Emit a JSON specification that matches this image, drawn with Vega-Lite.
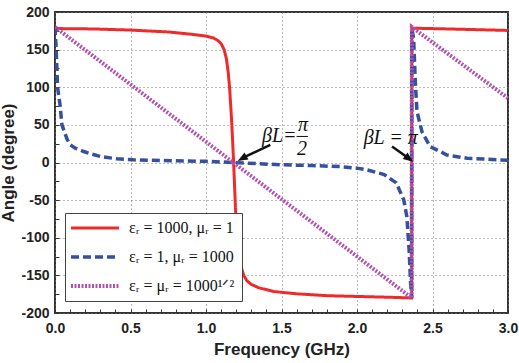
{
  "$schema": "https://vega.github.io/schema/vega-lite/v6.json",
  "autosize": "none",
  "width": 453,
  "height": 301,
  "padding": {"left": 55, "top": 12, "right": 11, "bottom": 50},
  "background": "white",
  "config": {
    "font": "Liberation Sans",
    "view": {"stroke": "#333", "strokeWidth": 2},
    "axis": {
      "domain": false,
      "labelFont": "Liberation Sans",
      "labelFontWeight": "bold",
      "labelFontSize": 14,
      "labelColor": "#222",
      "titleFont": "Liberation Sans",
      "titleFontWeight": "bold",
      "titleFontSize": 17,
      "titleColor": "#222",
      "tickColor": "#333",
      "tickWidth": 1,
      "tickSize": -4,
      "gridColor": "#777",
      "gridDash": [1, 3],
      "gridWidth": 1
    }
  },
  "datasets": {
    "lines": [
      {"series": "εᵣ = 1000, μᵣ = 1", "f": 0, "a": 178},
      {"series": "εᵣ = 1000, μᵣ = 1", "f": 0.25, "a": 177.5},
      {"series": "εᵣ = 1000, μᵣ = 1", "f": 0.5, "a": 176},
      {"series": "εᵣ = 1000, μᵣ = 1", "f": 0.75, "a": 173.5},
      {"series": "εᵣ = 1000, μᵣ = 1", "f": 0.9, "a": 170.5},
      {"series": "εᵣ = 1000, μᵣ = 1", "f": 1.0, "a": 168},
      {"series": "εᵣ = 1000, μᵣ = 1", "f": 1.05, "a": 165.5},
      {"series": "εᵣ = 1000, μᵣ = 1", "f": 1.08, "a": 162},
      {"series": "εᵣ = 1000, μᵣ = 1", "f": 1.1, "a": 158},
      {"series": "εᵣ = 1000, μᵣ = 1", "f": 1.12, "a": 150},
      {"series": "εᵣ = 1000, μᵣ = 1", "f": 1.135, "a": 138},
      {"series": "εᵣ = 1000, μᵣ = 1", "f": 1.147, "a": 120},
      {"series": "εᵣ = 1000, μᵣ = 1", "f": 1.156, "a": 100},
      {"series": "εᵣ = 1000, μᵣ = 1", "f": 1.17, "a": 55},
      {"series": "εᵣ = 1000, μᵣ = 1", "f": 1.183, "a": 0},
      {"series": "εᵣ = 1000, μᵣ = 1", "f": 1.195, "a": -60},
      {"series": "εᵣ = 1000, μᵣ = 1", "f": 1.205, "a": -100},
      {"series": "εᵣ = 1000, μᵣ = 1", "f": 1.217, "a": -122},
      {"series": "εᵣ = 1000, μᵣ = 1", "f": 1.23, "a": -137},
      {"series": "εᵣ = 1000, μᵣ = 1", "f": 1.25, "a": -150},
      {"series": "εᵣ = 1000, μᵣ = 1", "f": 1.27, "a": -157},
      {"series": "εᵣ = 1000, μᵣ = 1", "f": 1.3, "a": -162},
      {"series": "εᵣ = 1000, μᵣ = 1", "f": 1.35, "a": -166.5},
      {"series": "εᵣ = 1000, μᵣ = 1", "f": 1.45, "a": -171.5},
      {"series": "εᵣ = 1000, μᵣ = 1", "f": 1.6, "a": -174.5},
      {"series": "εᵣ = 1000, μᵣ = 1", "f": 1.8, "a": -177},
      {"series": "εᵣ = 1000, μᵣ = 1", "f": 2.0, "a": -178},
      {"series": "εᵣ = 1000, μᵣ = 1", "f": 2.2, "a": -179},
      {"series": "εᵣ = 1000, μᵣ = 1", "f": 2.362, "a": -180},
      {"series": "εᵣ = 1000, μᵣ = 1", "f": 2.363, "a": 178.5},
      {"series": "εᵣ = 1000, μᵣ = 1", "f": 2.6, "a": 177.5},
      {"series": "εᵣ = 1000, μᵣ = 1", "f": 2.8, "a": 176.5},
      {"series": "εᵣ = 1000, μᵣ = 1", "f": 3.0, "a": 175.5},
      {"series": "εᵣ = 1, μᵣ = 1000", "f": 0, "a": 180},
      {"series": "εᵣ = 1, μᵣ = 1000", "f": 0.004, "a": 165},
      {"series": "εᵣ = 1, μᵣ = 1000", "f": 0.008, "a": 150},
      {"series": "εᵣ = 1, μᵣ = 1000", "f": 0.017, "a": 100},
      {"series": "εᵣ = 1, μᵣ = 1000", "f": 0.033, "a": 77},
      {"series": "εᵣ = 1, μᵣ = 1000", "f": 0.046, "a": 50},
      {"series": "εᵣ = 1, μᵣ = 1000", "f": 0.062, "a": 41},
      {"series": "εᵣ = 1, μᵣ = 1000", "f": 0.08, "a": 31},
      {"series": "εᵣ = 1, μᵣ = 1000", "f": 0.101, "a": 23.5},
      {"series": "εᵣ = 1, μᵣ = 1000", "f": 0.134, "a": 19},
      {"series": "εᵣ = 1, μᵣ = 1000", "f": 0.19, "a": 14.6},
      {"series": "εᵣ = 1, μᵣ = 1000", "f": 0.245, "a": 11.1},
      {"series": "εᵣ = 1, μᵣ = 1000", "f": 0.3, "a": 8},
      {"series": "εᵣ = 1, μᵣ = 1000", "f": 0.41, "a": 4.9},
      {"series": "εᵣ = 1, μᵣ = 1000", "f": 0.52, "a": 3.5},
      {"series": "εᵣ = 1, μᵣ = 1000", "f": 0.72, "a": 2.7},
      {"series": "εᵣ = 1, μᵣ = 1000", "f": 1.0, "a": 1.5},
      {"series": "εᵣ = 1, μᵣ = 1000", "f": 1.18, "a": 0},
      {"series": "εᵣ = 1, μᵣ = 1000", "f": 1.49, "a": -3},
      {"series": "εᵣ = 1, μᵣ = 1000", "f": 1.7, "a": -4},
      {"series": "εᵣ = 1, μᵣ = 1000", "f": 1.89, "a": -5.5},
      {"series": "εᵣ = 1, μᵣ = 1000", "f": 2.0, "a": -7.5},
      {"series": "εᵣ = 1, μᵣ = 1000", "f": 2.07, "a": -10},
      {"series": "εᵣ = 1, μᵣ = 1000", "f": 2.18, "a": -16},
      {"series": "εᵣ = 1, μᵣ = 1000", "f": 2.26, "a": -27},
      {"series": "εᵣ = 1, μᵣ = 1000", "f": 2.31, "a": -50},
      {"series": "εᵣ = 1, μᵣ = 1000", "f": 2.33, "a": -72},
      {"series": "εᵣ = 1, μᵣ = 1000", "f": 2.345, "a": -116},
      {"series": "εᵣ = 1, μᵣ = 1000", "f": 2.355, "a": -160},
      {"series": "εᵣ = 1, μᵣ = 1000", "f": 2.362, "a": -180},
      {"series": "εᵣ = 1, μᵣ = 1000", "f": 2.363, "a": 178},
      {"series": "εᵣ = 1, μᵣ = 1000", "f": 2.375, "a": 165},
      {"series": "εᵣ = 1, μᵣ = 1000", "f": 2.386, "a": 108},
      {"series": "εᵣ = 1, μᵣ = 1000", "f": 2.397, "a": 68},
      {"series": "εᵣ = 1, μᵣ = 1000", "f": 2.43, "a": 41},
      {"series": "εᵣ = 1, μᵣ = 1000", "f": 2.485, "a": 21},
      {"series": "εᵣ = 1, μᵣ = 1000", "f": 2.596, "a": 10},
      {"series": "εᵣ = 1, μᵣ = 1000", "f": 2.73, "a": 5.6},
      {"series": "εᵣ = 1, μᵣ = 1000", "f": 3.0, "a": 3},
      {"series": "εᵣ = μᵣ = 1000¹ᐟ²", "f": 0, "a": 180},
      {"series": "εᵣ = μᵣ = 1000¹ᐟ²", "f": 1.181, "a": 0},
      {"series": "εᵣ = μᵣ = 1000¹ᐟ²", "f": 2.362, "a": -180},
      {"series": "εᵣ = μᵣ = 1000¹ᐟ²", "f": 2.363, "a": 180},
      {"series": "εᵣ = μᵣ = 1000¹ᐟ²", "f": 3.0, "a": 85.5}
    ],
    "shafts": [
      {"f": 1.426, "a": 23.5, "f2": 1.25, "a2": 6.8},
      {"f": 2.232, "a": 21.3, "f2": 2.335, "a2": 6.6}
    ],
    "head1": [{"f": 1.21, "a": 2}],
    "head2": [{"f": 2.372, "a": 1}],
    "fracbar": [{"f": 1.6, "f2": 1.675, "a": 34.6}],
    "lefttext": [{"f": 1.6, "a": 27.5, "t": "βL="}],
    "centertext": [
      {"f": 1.642, "a": 42, "t": "π"},
      {"f": 1.636, "a": 10, "t": "2"}
    ],
    "righttext": [{"f": 2.044, "a": 24, "t": "βL = π"}]
  },
  "layer": [
    {
      "data": {"name": "lines"},
      "mark": {"type": "line", "clip": true},
      "encoding": {
        "x": {
          "field": "f", "type": "quantitative",
          "scale": {"domain": [0, 3], "nice": false},
          "title": "Frequency (GHz)",
          "axis": {
            "values": [0,0.1,0.2,0.3,0.4,0.5,0.6,0.7,0.8,0.9,1,1.1,1.2,1.3,1.4,1.5,1.6,1.7,1.8,1.9,2,2.1,2.2,2.3,2.4,2.5,2.6,2.7,2.8,2.9,3],
            "tickCount": 100,
            "labelExpr": "abs(datum.value*2 - round(datum.value*2)) < 0.001 ? format(datum.value, '.1f') : ''",
            "gridOpacity": {"condition": {"test": "abs(datum.value*2 - round(datum.value*2)) < 0.001", "value": 1}, "value": 0},
            "labelOverlap": false,
            "labelPadding": 12,
            "labelFlush": false,
            "titlePadding": 6
          }
        },
        "y": {
          "field": "a", "type": "quantitative",
          "scale": {"domain": [-200, 200], "nice": false},
          "title": "Angle (degree)",
          "axis": {
            "values": [-200,-175,-150,-125,-100,-75,-50,-25,0,25,50,75,100,125,150,175,200],
            "tickCount": 100,
            "labelExpr": "datum.value % 50 === 0 ? '' + datum.value : ''",
            "gridOpacity": {"condition": {"test": "datum.value % 50 === 0", "value": 1}, "value": 0},
            "labelOverlap": false,
            "labelPadding": 10,
            "labelFlush": false,
            "titlePadding": 3
          }
        },
        "color": {
          "field": "series", "type": "nominal",
          "scale": {
            "domain": ["εᵣ = 1000, μᵣ = 1", "εᵣ = 1, μᵣ = 1000", "εᵣ = μᵣ = 1000¹ᐟ²"],
            "range": ["#ee2b2b", "#34509e", "#b152b1"]
          },
          "legend": {
            "title": null,
            "orient": "none",
            "legendX": 10,
            "legendY": 201,
            "direction": "vertical",
            "fillColor": "white",
            "strokeColor": "#444",
            "padding": 7,
            "symbolType": "M-4,0H4",
            "symbolSize": 144,
            "symbolOffset": 15,
            "symbolStrokeWidth": 3.5,
            "labelFont": "Liberation Serif",
            "labelFontSize": 16,
            "labelColor": "#111",
            "labelLimit": 300,
            "labelOffset": 26,
            "rowPadding": 13
          }
        },
        "strokeDash": {
          "field": "series", "type": "nominal",
          "scale": {
            "domain": ["εᵣ = 1000, μᵣ = 1", "εᵣ = 1, μᵣ = 1000", "εᵣ = μᵣ = 1000¹ᐟ²"],
            "range": [[1, 0], [8, 4], [2, 1.5]]
          },
          "legend": {
            "title": null,
            "orient": "none",
            "legendX": 10,
            "legendY": 201,
            "direction": "vertical",
            "fillColor": "white",
            "strokeColor": "#444",
            "padding": 7,
            "symbolType": "M-4,0H4",
            "symbolSize": 144,
            "symbolOffset": 15,
            "symbolStrokeWidth": 3.5,
            "labelFont": "Liberation Serif",
            "labelFontSize": 16,
            "labelColor": "#111",
            "labelLimit": 300,
            "labelOffset": 26,
            "rowPadding": 13
          }
        },
        "strokeWidth": {
          "field": "series", "type": "nominal",
          "scale": {
            "domain": ["εᵣ = 1000, μᵣ = 1", "εᵣ = 1, μᵣ = 1000", "εᵣ = μᵣ = 1000¹ᐟ²"],
            "range": [3, 4, 3.5]
          },
          "legend": null
        }
      }
    },
    {
      "data": {"name": "shafts"},
      "mark": {"type": "rule", "color": "#111", "strokeWidth": 2.5},
      "encoding": {
        "x": {"field": "f", "type": "quantitative"},
        "y": {"field": "a", "type": "quantitative"},
        "x2": {"field": "f2"},
        "y2": {"field": "a2"}
      }
    },
    {
      "data": {"name": "head1"},
      "mark": {"type": "point", "shape": "M0,0L0.8,2L-0.8,2Z", "filled": true, "color": "#111", "opacity": 1, "size": 100, "angle": 240.8},
      "encoding": {
        "x": {"field": "f", "type": "quantitative"},
        "y": {"field": "a", "type": "quantitative"}
      }
    },
    {
      "data": {"name": "head2"},
      "mark": {"type": "point", "shape": "M0,0L0.8,2L-0.8,2Z", "filled": true, "color": "#111", "opacity": 1, "size": 100, "angle": 126.5},
      "encoding": {
        "x": {"field": "f", "type": "quantitative"},
        "y": {"field": "a", "type": "quantitative"}
      }
    },
    {
      "data": {"name": "fracbar"},
      "mark": {"type": "rule", "color": "#111", "strokeWidth": 1},
      "encoding": {
        "x": {"field": "f", "type": "quantitative"},
        "x2": {"field": "f2"},
        "y": {"field": "a", "type": "quantitative"}
      }
    },
    {
      "data": {"name": "lefttext"},
      "mark": {"type": "text", "align": "right", "baseline": "alphabetic", "font": "Liberation Serif", "fontStyle": "italic", "fontSize": 20, "color": "#111"},
      "encoding": {
        "x": {"field": "f", "type": "quantitative"},
        "y": {"field": "a", "type": "quantitative"},
        "text": {"field": "t"}
      }
    },
    {
      "data": {"name": "centertext"},
      "mark": {"type": "text", "align": "center", "baseline": "alphabetic", "font": "Liberation Serif", "fontStyle": "italic", "fontSize": 20, "color": "#111"},
      "encoding": {
        "x": {"field": "f", "type": "quantitative"},
        "y": {"field": "a", "type": "quantitative"},
        "text": {"field": "t"}
      }
    },
    {
      "data": {"name": "righttext"},
      "mark": {"type": "text", "align": "left", "baseline": "alphabetic", "font": "Liberation Serif", "fontStyle": "italic", "fontSize": 20, "color": "#111"},
      "encoding": {
        "x": {"field": "f", "type": "quantitative"},
        "y": {"field": "a", "type": "quantitative"},
        "text": {"field": "t"}
      }
    }
  ]
}
